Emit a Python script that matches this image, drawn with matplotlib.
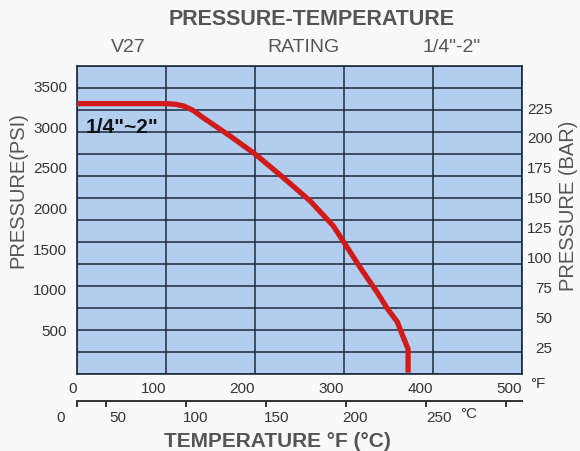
import matplotlib
matplotlib.use("Agg")
import matplotlib.pyplot as plt
import matplotlib.transforms as mtransforms
import numpy as np

plt.rcParams['font.family'] = ['Liberation Sans', 'DejaVu Sans']

# rating curve (deg F, psi)
temp_f = [0, 50, 100, 110, 120, 130, 142, 172, 200, 231, 262, 288, 304, 320, 337, 349, 360, 366, 372, 372]
press_psi = [3275, 3275, 3275, 3268, 3245, 3195, 3100, 2877, 2656, 2373, 2078, 1771, 1500, 1230, 959, 750, 590, 418, 258, 0]

f_ticks = [0, 100, 200, 300, 400, 500]
psi_ticks = [500, 1000, 1500, 2000, 2500, 3000, 3500]
bar_ticks = [25, 50, 75, 100, 125, 150, 175, 200, 225]
c_ticks = [0, 50, 100, 150, 200, 250]
c_labels = ['0', '50', '100', '150', '200', '250']
c_label_pos_f = [-18, 46, 133, 224, 312, 407]

grid_col = '#1c2b3c'
text_col = '#555555'
bg_col = '#b2cdee'

fig = plt.figure(figsize=(5.8, 4.52), dpi=100)
fig.patch.set_facecolor('#f9f9f9')
ax = fig.add_axes([0.1328, 0.1704, 0.7672, 0.6814])
ax.set_facecolor(bg_col)

ymin, ymax = -49, 3738
ax.set_xlim(0, 500)
ax.set_ylim(ymin, ymax)

ax.plot(temp_f, press_psi, color='#d11a1a', lw=3.8, solid_capstyle='projecting',
        solid_joinstyle='round', zorder=3)

ax.set_xticks(f_ticks)
ax.set_xticklabels([str(v) for v in f_ticks])
plt.setp(ax.get_xticklabels(), ha='right')
ax.set_yticks(psi_ticks)
ax.set_yticks(np.linspace(ymin, ymax, 15), minor=True)
ax.tick_params(axis='both', which='both', length=0, labelsize=11, colors='#333333')
ax.tick_params(axis='x', pad=5)
ax.tick_params(axis='y', pad=7)
ax.grid(True, axis='x', which='major', color=grid_col, lw=1.1)
ax.grid(True, axis='y', which='minor', color=grid_col, lw=1.1)
for s in ax.spines.values():
    s.set_color(grid_col)
    s.set_linewidth(1.2)

# bar scale on the right
ax2 = ax.twinx()
ax2.set_ylim(1.7, 259.4)
ax2.set_yticks(bar_ticks)
ax2.tick_params(axis='y', length=0, labelsize=11, colors='#333333', pad=22)
plt.setp(ax2.get_yticklabels(), ha='right')
for s in ax2.spines.values():
    s.set_visible(False)

# celsius scale
f2c = lambda f: (np.asarray(f) - 32) / 1.8
c2f = lambda c: np.asarray(c) * 1.8 + 32
sec = ax.secondary_xaxis(-0.088, functions=(f2c, c2f))
sec.set_xticks([float(f2c(0))] + c_ticks)
sec.set_xticklabels([''] * (len(c_ticks) + 1))
sec.tick_params(axis='x', direction='out', length=4, width=1.4, color='#333333')
sec.spines['bottom'].set_color('#333333')
sec.spines['bottom'].set_linewidth(1.4)

trans = mtransforms.blended_transform_factory(ax.transData, ax.transAxes)
for lab, xf in zip(c_labels, c_label_pos_f):
    ax.text(xf, -0.14, lab, transform=trans, ha='center', va='center',
            fontsize=11, color='#333333', clip_on=False)
ax.text(1.036, -0.03, '°F', transform=ax.transAxes, ha='center', va='center',
        fontsize=11, color='#333333')
ax.text(0.88, -0.128, '°C', transform=ax.transAxes, ha='center', va='center',
        fontsize=11, color='#333333')

ax.text(10, 3000, '1/4"~2"', ha='left', va='center', fontsize=15,
        fontweight='bold', color='#111111', zorder=4)

fig.text(0.537, 0.956, 'PRESSURE-TEMPERATURE', ha='center', va='center',
         fontsize=15.5, fontweight='bold', color=text_col)
fig.text(0.2207, 0.894, 'V27', ha='center', va='center', fontsize=14, color=text_col)
fig.text(0.524, 0.894, 'RATING', ha='center', va='center', fontsize=14, color=text_col)
fig.text(0.779, 0.894, '1/4"-2"', ha='center', va='center', fontsize=14, color=text_col)
fig.text(0.479, 0.024, 'TEMPERATURE °F (°C)', ha='center', va='center',
         fontsize=15, fontweight='bold', color=text_col)
fig.text(0.031, 0.58, 'PRESSURE(PSI)', ha='center', va='center', rotation=90,
         fontsize=14.5, color=text_col)
fig.text(0.981, 0.545, 'PRESSURE (BAR)', ha='center', va='center', rotation=90,
         fontsize=14.5, color=text_col)

fig.savefig('out.png', dpi=100, facecolor=fig.get_facecolor())
